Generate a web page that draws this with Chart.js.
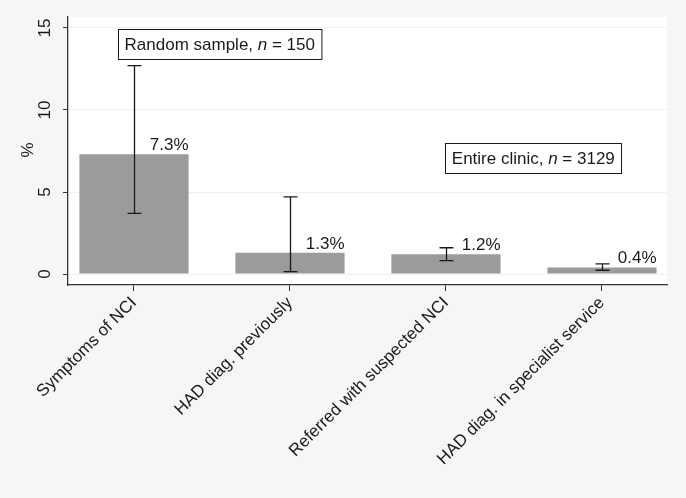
<!DOCTYPE html>
<html>
<head>
<meta charset="utf-8">
<script src="https://cdn.jsdelivr.net/npm/chart.js@4"></script>
<style>
  body { margin: 0; background: #f6f6f6; }
  #chart { display: block; }
</style>
</head>
<body>
<canvas id="chart" width="686" height="498"></canvas>
<script>
/* data */
const categories = ['Symptoms of NCI', 'HAD diag. previously', 'Referred with suspected NCI', 'HAD diag. in specialist service'];
const values = [7.3, 1.3, 1.2, 0.4];
const ciLow = [3.7, 0.15, 0.82, 0.23];
const ciHigh = [12.7, 4.7, 1.6, 0.62];
const valueLabels = ['7.3%', '1.3%', '1.2%', '0.4%'];
const yTicks = [0, 5, 10, 15];

// text boxes, anchored in data coordinates (centre of box)
const notes = [
    { x: 0.55, y: 14.0, parts: [['Random sample, ', false], ['n', true], [' = 150', false]] },
    { x: 2.56, y: 7.07, parts: [['Entire clinic, ', false], ['n', true], [' = 3129', false]] }
];

const FONT = '"Liberation Sans", Arial, sans-serif';
const SIZE = 17;
const INK = '#1a1a1a';

/* Paints the grey page and the white plot region */
const backgroundPlugin = {
    id: 'background',
    beforeDraw(chart) {
        const { ctx, chartArea: a } = chart;
        ctx.save();
        ctx.fillStyle = '#f6f6f6';
        ctx.fillRect(0, 0, chart.width, chart.height);
        ctx.fillStyle = '#ffffff';
        ctx.fillRect(a.left, a.top, a.right - a.left, a.bottom - a.top);
        ctx.restore();
    }
};

/* Error bars, value labels, rotated y labels and the note boxes */
const overlayPlugin = {
    id: 'overlay',
    afterDatasetsDraw(chart) {
        const { ctx } = chart;
        const xs = chart.scales.x;
        const ys = chart.scales.y;
        const bars = chart.getDatasetMeta(0).data;
        ctx.save();

        // confidence intervals
        ctx.strokeStyle = INK;
        ctx.lineWidth = 1.3;
        values.forEach((v, i) => {
            const px = Math.round(xs.getPixelForValue(i)) + 0.5;
            const top = ys.getPixelForValue(ciHigh[i]);
            const bot = ys.getPixelForValue(ciLow[i]);
            ctx.beginPath();
            ctx.moveTo(px, top); ctx.lineTo(px, bot);
            ctx.moveTo(px - 7, top); ctx.lineTo(px + 7, top);
            ctx.moveTo(px - 7, bot); ctx.lineTo(px + 7, bot);
            ctx.stroke();
        });

        // value labels, right aligned to the bar edge
        ctx.fillStyle = INK;
        ctx.font = SIZE + 'px ' + FONT;
        ctx.textAlign = 'right';
        ctx.textBaseline = 'alphabetic';
        bars.forEach((bar, i) => {
            ctx.fillText(valueLabels[i], bar.x + bar.width / 2, bar.y - 4);
        });

        // y tick labels, rotated like Stata does
        ctx.textAlign = 'center';
        ctx.textBaseline = 'middle';
        yTicks.forEach(t => {
            ctx.save();
            ctx.translate(45, ys.getPixelForValue(t));
            ctx.rotate(-Math.PI / 2);
            ctx.fillText(String(t), 0, 0);
            ctx.restore();
        });

        // y axis title
        ctx.save();
        ctx.translate(28, (ys.top + ys.bottom) / 2 - 1);
        ctx.rotate(-Math.PI / 2);
        ctx.fillText('%', 0, 0);
        ctx.restore();

        // note boxes
        notes.forEach(n => {
            let w = 0;
            n.parts.forEach(([s, it]) => {
                ctx.font = (it ? 'italic ' : '') + SIZE + 'px ' + FONT;
                w += ctx.measureText(s).width;
            });
            const cx = xs.getPixelForValue(n.x);
            const cy = ys.getPixelForValue(n.y);
            const bw = w + 13, bh = 30;
            const bx = Math.round(cx - bw / 2) + 0.5, by = Math.round(cy - bh / 2) + 0.5;
            ctx.fillStyle = '#ffffff';
            ctx.fillRect(bx, by, bw, bh);
            ctx.strokeStyle = INK;
            ctx.lineWidth = 1;
            ctx.strokeRect(bx, by, bw, bh);
            ctx.fillStyle = INK;
            ctx.textAlign = 'left';
            ctx.textBaseline = 'middle';
            let tx = cx - w / 2;
            n.parts.forEach(([s, it]) => {
                ctx.font = (it ? 'italic ' : '') + SIZE + 'px ' + FONT;
                ctx.fillText(s, tx, cy + 1);
                tx += ctx.measureText(s).width;
            });
        });

        ctx.restore();
    }
};

new Chart(document.getElementById('chart'), {
    type: 'bar',
    data: {
        datasets: [{
            data: values.map((v, i) => ({ x: i, y: v })),
            backgroundColor: '#9b9b9b',
            borderWidth: 0,
            barPercentage: 0.7,
            categoryPercentage: 1
        }]
    },
    options: {
        responsive: false,
        animation: false,
        layout: { padding: { top: 17, right: 19, left: 0, bottom: 0 } },
        plugins: {
            legend: { display: false },
            tooltip: { enabled: false }
        },
        scales: {
            x: {
                type: 'linear',
                offset: false,
                min: -0.423,
                max: 3.417,
                afterBuildTicks: scale => { scale.ticks = categories.map((c, i) => ({ value: i })); },
                afterFit: scale => { scale.height = 213; },
                ticks: {
                    autoSkip: false,
                    minRotation: 45,
                    maxRotation: 45,
                    padding: 2,
                    color: INK,
                    font: { family: FONT, size: SIZE },
                    callback: value => categories[value]
                },
                grid: { offset: false, drawOnChartArea: false, drawTicks: true, tickLength: 6, color: '#333' },
                border: { display: true, color: '#333', width: 1.3 }
            },
            y: {
                min: -0.67,
                max: 15.67,
                afterBuildTicks: scale => { scale.ticks = yTicks.map(v => ({ value: v })); },
                afterFit: scale => { scale.width = 68; },
                ticks: { display: false },
                grid: {
                    color: '#f0f0f0',
                    tickColor: '#333',
                    tickLength: 5,
                    drawTicks: true
                },
                border: { display: true, color: '#333', width: 1.3 }
            }
        }
    },
    plugins: [backgroundPlugin, overlayPlugin]
});
</script>
</body>
</html>
